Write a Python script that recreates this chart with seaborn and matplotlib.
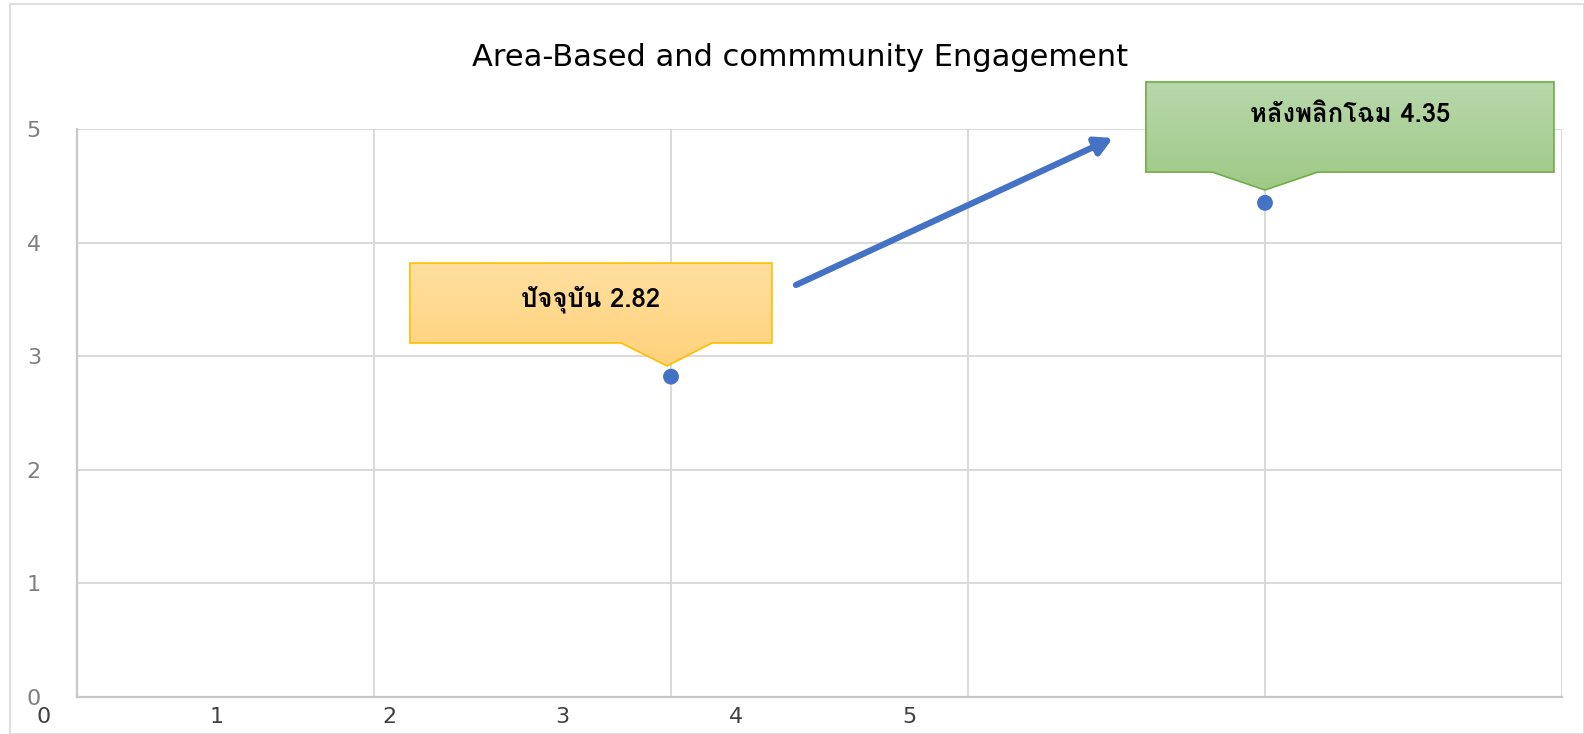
import numpy as np
import pandas as pd
import seaborn as sns
import matplotlib.pyplot as plt
from matplotlib import font_manager
from matplotlib.patches import Polygon, Rectangle
from matplotlib.colors import LinearSegmentedColormap

# data
x_pos = [2, 4]
scores = [2.82, 4.35]
labels = ['ปัจจุบัน 2.82', 'หลังพลิกโฉม 4.35']
y_ticks = [0, 1, 2, 3, 4, 5]
bottom_labels = ['0', '1', '2', '3', '4', '5']
title = 'Area-Based and commmunity Engagement'

# find a font that can draw Thai
thai_family = None
try:
    from fontTools.ttLib import TTFont
    for f in font_manager.fontManager.ttflist:
        try:
            tt = TTFont(f.fname, fontNumber=0, lazy=True)
            if 0x0E1B in tt.getBestCmap():
                thai_family = f.name
                break
        except Exception:
            pass
except Exception:
    pass

sns.set_style('white')
fams = ['DejaVu Sans']
if thai_family:
    fams = [thai_family, 'DejaVu Sans']
plt.rcParams['font.family'] = ['DejaVu Sans']

W, H = 1584, 734
fig = plt.figure(figsize=(W / 100, H / 100), dpi=100)
ax = fig.add_axes([77 / W, 37 / H, 1485 / W, 568 / H])

df = pd.DataFrame({'x': x_pos, 'y': scores})
sns.scatterplot(data=df, x='x', y='y', ax=ax, s=130, color='#4472C4',
                edgecolor='none', zorder=5, clip_on=False)

ax.set_xlim(0, 5)
ax.set_ylim(0, 5)
ax.set_xticks(range(6))
ax.set_xticklabels([])
ax.set_yticks(y_ticks)
ax.set_yticklabels([str(v) for v in y_ticks])
ax.set_xlabel('')
ax.set_ylabel('')
ax.grid(True, color='#D9D9D9', lw=1.4)
ax.tick_params(axis='both', length=0)
ax.tick_params(axis='y', pad=26, labelsize=16, labelcolor='#7F7F7F')
for s in ['top', 'right']:
    ax.spines[s].set_visible(False)
for s in ['left', 'bottom']:
    ax.spines[s].set_color('#C8C8C8')
    ax.spines[s].set_linewidth(1.6)

# callouts, shape offsets relative to each point
callouts = [
    dict(l=-0.879, r=0.34, b=0.296, t=1.0, bl=-0.168, br=0.138, tip=(-0.013, 0.094),
         top='#FFDF9F', bot='#FFD27B', edge='#FFC000', tx=-0.27, ty=0.685),
    dict(l=-0.401, r=0.973, b=0.271, t=1.064, bl=-0.178, br=0.178, tip=(0.0, 0.113),
         top='#B8D8AB', bot='#9FC986', edge='#70AD47', tx=0.286, ty=0.77),
]
for (px, py), lab, c in zip(zip(x_pos, scores), labels, callouts):
    verts = [(px + c['l'], py + c['t']), (px + c['r'], py + c['t']),
             (px + c['r'], py + c['b']), (px + c['br'], py + c['b']),
             (px + c['tip'][0], py + c['tip'][1]), (px + c['bl'], py + c['b']),
             (px + c['l'], py + c['b'])]
    poly = Polygon(verts, closed=True, facecolor='none', edgecolor=c['edge'],
                   lw=1.2, clip_on=False, zorder=4)
    ax.add_patch(poly)
    cmap = LinearSegmentedColormap.from_list('g', [c['bot'], c['top']])
    grad = np.linspace(0, 1, 100).reshape(-1, 1)
    im = ax.imshow(grad, cmap=cmap, aspect='auto', origin='lower',
                   extent=[px + c['l'], px + c['r'], py + c['tip'][1], py + c['t']],
                   zorder=3, interpolation='bilinear')
    im.set_clip_path(poly)
    im.set_clip_box(fig.bbox)
    ax.text(px + c['tx'], py + c['ty'], lab, ha='center', va='center',
            fontsize=18.5, fontweight='bold', color='black', family=fams, zorder=6)

ax.set_xlim(0, 5)
ax.set_ylim(0, 5)

# arrow from current to target
ax.annotate('', xy=(3.488, 4.921), xytext=(2.421, 3.627),
            arrowprops=dict(arrowstyle='-|>,head_length=1.0,head_width=0.55',
                            lw=4.5, color='#4472C4', shrinkA=0, shrinkB=0),
            annotation_clip=False, zorder=6)

# odd bottom labels row
lab_ax = fig.add_axes([43.4 / W, 27 / H, (909 - 43.4) / W, 0.0001])
lab_ax.set_xlim(0, 5)
lab_ax.set_xticks(range(6))
lab_ax.set_xticklabels(bottom_labels)
lab_ax.set_yticks([])
lab_ax.tick_params(axis='x', length=0, pad=0, labelsize=16, labelcolor='#404040')
for s in lab_ax.spines.values():
    s.set_visible(False)
lab_ax.patch.set_alpha(0)

fig.text(800 / W, 1 - 58 / H, title, ha='center', va='center', fontsize=22, color='black')

fig.patches.append(Rectangle((10 / W, 0), 1 - 10 / W, 1 - 4 / H, transform=fig.transFigure,
                             facecolor='none', edgecolor='#D9D9D9', lw=1.2))

fig.savefig('out.png', dpi=100)
